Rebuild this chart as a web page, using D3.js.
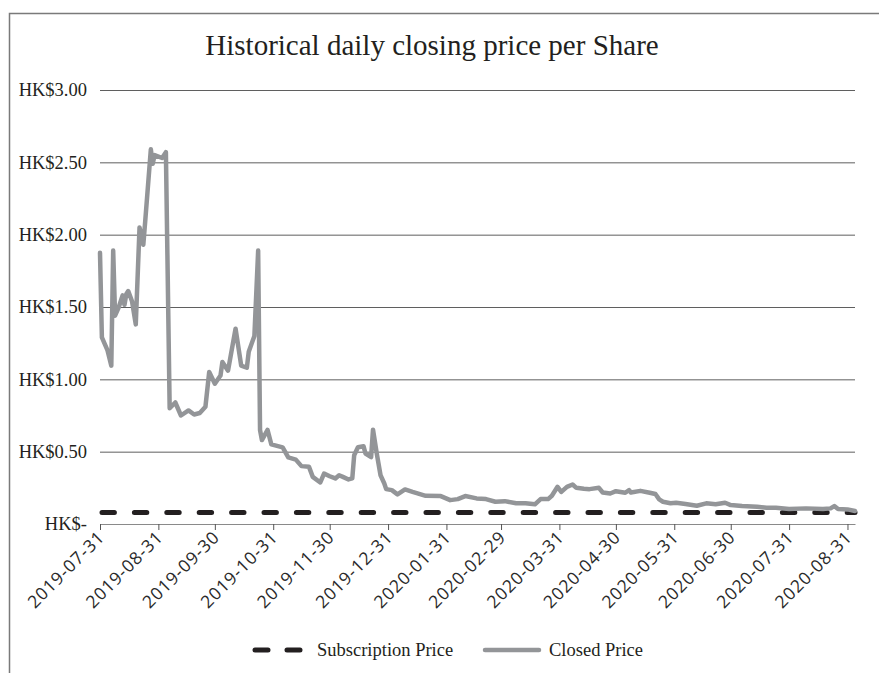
<!DOCTYPE html>
<html>
<head>
<meta charset="utf-8">
<script src="https://cdn.jsdelivr.net/npm/d3@7"></script>
<style>
  html, body { margin: 0; padding: 0; background: #fff; }
  svg { display: block; }
</style>
</head>
<body>
<script>
// ---- Data ----
const chartTitle = "Historical daily closing price per Share";
const subscriptionPrice = 0.08;
const dates = ["2019-07-31","2019-08-01","2019-08-04","2019-08-06","2019-08-07","2019-08-08","2019-08-10","2019-08-12","2019-08-13","2019-08-14",
"2019-08-15","2019-08-17","2019-08-19","2019-08-21","2019-08-23","2019-08-24","2019-08-27","2019-08-28","2019-08-29","2019-09-02",
"2019-09-04","2019-09-06","2019-09-09","2019-09-12","2019-09-16","2019-09-19","2019-09-22","2019-09-25","2019-09-27","2019-09-30",
"2019-10-03","2019-10-04","2019-10-07","2019-10-11","2019-10-14","2019-10-17","2019-10-18","2019-10-21","2019-10-23","2019-10-24",
"2019-10-25","2019-10-28","2019-10-30","2019-11-05","2019-11-08","2019-11-12","2019-11-15","2019-11-19","2019-11-21","2019-11-25",
"2019-11-27","2019-11-30","2019-12-03","2019-12-05","2019-12-07","2019-12-10","2019-12-12","2019-12-13","2019-12-15","2019-12-18",
"2019-12-19","2019-12-22","2019-12-23","2019-12-25","2019-12-27","2019-12-29","2019-12-30","2020-01-02","2020-01-05","2020-01-09",
"2020-01-13","2020-01-20","2020-01-28","2020-02-02","2020-02-06","2020-02-10","2020-02-16","2020-02-21","2020-02-26","2020-03-02",
"2020-03-08","2020-03-13","2020-03-18","2020-03-21","2020-03-25","2020-03-27","2020-03-30","2020-04-01","2020-04-04","2020-04-07",
"2020-04-09","2020-04-13","2020-04-16","2020-04-21","2020-04-23","2020-04-27","2020-04-30","2020-05-05","2020-05-07","2020-05-08",
"2020-05-13","2020-05-18","2020-05-21","2020-05-23","2020-05-25","2020-05-29","2020-06-01","2020-06-06","2020-06-12","2020-06-17",
"2020-06-22","2020-06-27","2020-06-30","2020-07-06","2020-07-14","2020-07-19","2020-07-24","2020-07-31","2020-08-09","2020-08-18",
"2020-08-22","2020-08-24","2020-08-26","2020-08-31","2020-09-04"];
const closes = [1.875,1.29,1.20,1.095,1.89,1.44,1.50,1.58,1.515,1.59,
1.61,1.54,1.38,2.05,1.93,2.09,2.59,2.49,2.55,2.53,
2.57,0.80,0.84,0.75,0.785,0.757,0.767,0.81,1.05,0.97,
1.026,1.12,1.06,1.35,1.095,1.08,1.19,1.30,1.89,0.65,
0.58,0.65,0.55,0.53,0.46,0.445,0.40,0.395,0.326,0.287,
0.349,0.33,0.315,0.337,0.326,0.308,0.315,0.475,0.53,0.537,
0.487,0.463,0.652,0.487,0.337,0.28,0.241,0.234,0.205,0.239,
0.222,0.195,0.193,0.165,0.172,0.193,0.177,0.172,0.154,0.158,
0.143,0.143,0.136,0.172,0.172,0.195,0.257,0.222,0.257,0.273,
0.25,0.243,0.241,0.25,0.218,0.211,0.227,0.216,0.234,0.218,
0.229,0.216,0.207,0.17,0.154,0.143,0.147,0.138,0.126,0.143,
0.136,0.147,0.131,0.124,0.119,0.112,0.112,0.103,0.108,0.103,
0.108,0.124,0.103,0.101,0.09];
const xTickLabels = ["2019-07-31","2019-08-31","2019-09-30","2019-10-31","2019-11-30","2019-12-31","2020-01-31",
"2020-02-29","2020-03-31","2020-04-30","2020-05-31","2020-06-30","2020-07-31","2020-08-31"];
const yTickValues = [0, 0.5, 1, 1.5, 2, 2.5, 3];
const yTickLabels = ["HK$-","HK$0.50","HK$1.00","HK$1.50","HK$2.00","HK$2.50","HK$3.00"];
const xDomain = ["2019-07-31", "2020-09-04"];
const legendLabels = ["Subscription Price", "Closed Price"];

// ---- Layout ----
const W = 879, H = 673;
const mLeft = 100, mRight = 855, mTop = 90, mBottom = 524;
const parse = d3.utcParse("%Y-%m-%d");
const serif = "'Liberation Serif','Times New Roman',serif";
const sans = "'Open Sans','Noto Sans',sans-serif";

const svg = d3.select("body").append("svg").attr("width", W).attr("height", H);

// border
svg.append("path").attr("d", `M9.5,${H} V13.5 H${W}`)
  .attr("fill", "none").attr("stroke", "#7a7a7a").attr("stroke-width", 1.5);

const x = d3.scaleUtc().domain(xDomain.map(parse)).range([mLeft, mRight]);
const y = d3.scaleLinear().domain([0, 3]).range([mBottom, mTop]);

// title
svg.append("text").attr("x", 432).attr("y", 55).attr("text-anchor", "middle")
  .attr("font-family", serif).attr("font-size", 29).attr("fill", "#231f20")
  .text(chartTitle);

// gridlines + y labels
const yAxis = d3.axisLeft(y).tickValues(yTickValues)
  .tickSize(-(mRight - mLeft)).tickFormat((d, i) => yTickLabels[i]);
const gy = svg.append("g").attr("transform", `translate(${mLeft},0)`).call(yAxis);
gy.select(".domain").remove();
gy.selectAll(".tick line").attr("stroke", "#5f5f5f").attr("stroke-width", 1)
  .filter(d => d === 0).remove();
gy.selectAll(".tick text").attr("x", -13).attr("font-family", serif)
  .attr("font-size", 18.5).attr("fill", "#231f20");

// x axis
const xAxis = d3.axisBottom(x).tickValues(xTickLabels.map(parse))
  .tickSize(6).tickSizeOuter(0).tickFormat(d3.utcFormat("%Y-%m-%d"));
const gx = svg.append("g").attr("transform", `translate(0,${mBottom})`).call(xAxis);
gx.select(".domain").attr("stroke", "#8a8a8a").attr("stroke-width", 1.2);
gx.selectAll(".tick line").attr("stroke", "#555");
gx.selectAll(".tick text")
  .attr("font-family", sans).attr("font-size", 17.5).attr("fill", "#2a2a2a")
  .attr("letter-spacing", "0.9px")
  .attr("text-anchor", "end").attr("dy", "0.35em")
  .attr("transform", "translate(1,10) rotate(-45)")
  .attr("x", 0).attr("y", 0);

// subscription price dashed line
const subData = xDomain.map(parse);
svg.append("line")
  .attr("x1", x(subData[0]) - 0.5).attr("x2", x(subData[1]))
  .attr("y1", y(subscriptionPrice)).attr("y2", y(subscriptionPrice))
  .attr("stroke", "#231f20").attr("stroke-width", 5)
  .attr("stroke-linecap", "round").attr("stroke-dasharray", "12.4 20")
  .attr("stroke-dashoffset", -2.5);

// closing price line
const series = dates.map((d, i) => ({ date: parse(d), v: closes[i] }));
const line = d3.line().x(d => x(d.date)).y(d => y(d.v));
svg.append("path").datum(series).attr("d", line)
  .attr("fill", "none").attr("stroke", "#939598").attr("stroke-width", 4.5)
  .attr("stroke-linejoin", "round").attr("stroke-linecap", "round");

// legend
const ly = 650;
const lg = svg.append("g");
lg.append("line").attr("x1", 255).attr("x2", 301).attr("y1", ly).attr("y2", ly)
  .attr("stroke", "#231f20").attr("stroke-width", 5).attr("stroke-linecap", "round")
  .attr("stroke-dasharray", "13 19");
lg.append("text").attr("x", 317).attr("y", ly).attr("dy", "0.33em")
  .attr("font-family", serif).attr("font-size", 18.5).attr("fill", "#231f20")
  .text(legendLabels[0]);
lg.append("line").attr("x1", 485).attr("x2", 539).attr("y1", ly).attr("y2", ly)
  .attr("stroke", "#939598").attr("stroke-width", 4.5).attr("stroke-linecap", "round");
lg.append("text").attr("x", 549).attr("y", ly).attr("dy", "0.33em")
  .attr("font-family", serif).attr("font-size", 18.5).attr("fill", "#231f20")
  .text(legendLabels[1]);
</script>
</body>
</html>
